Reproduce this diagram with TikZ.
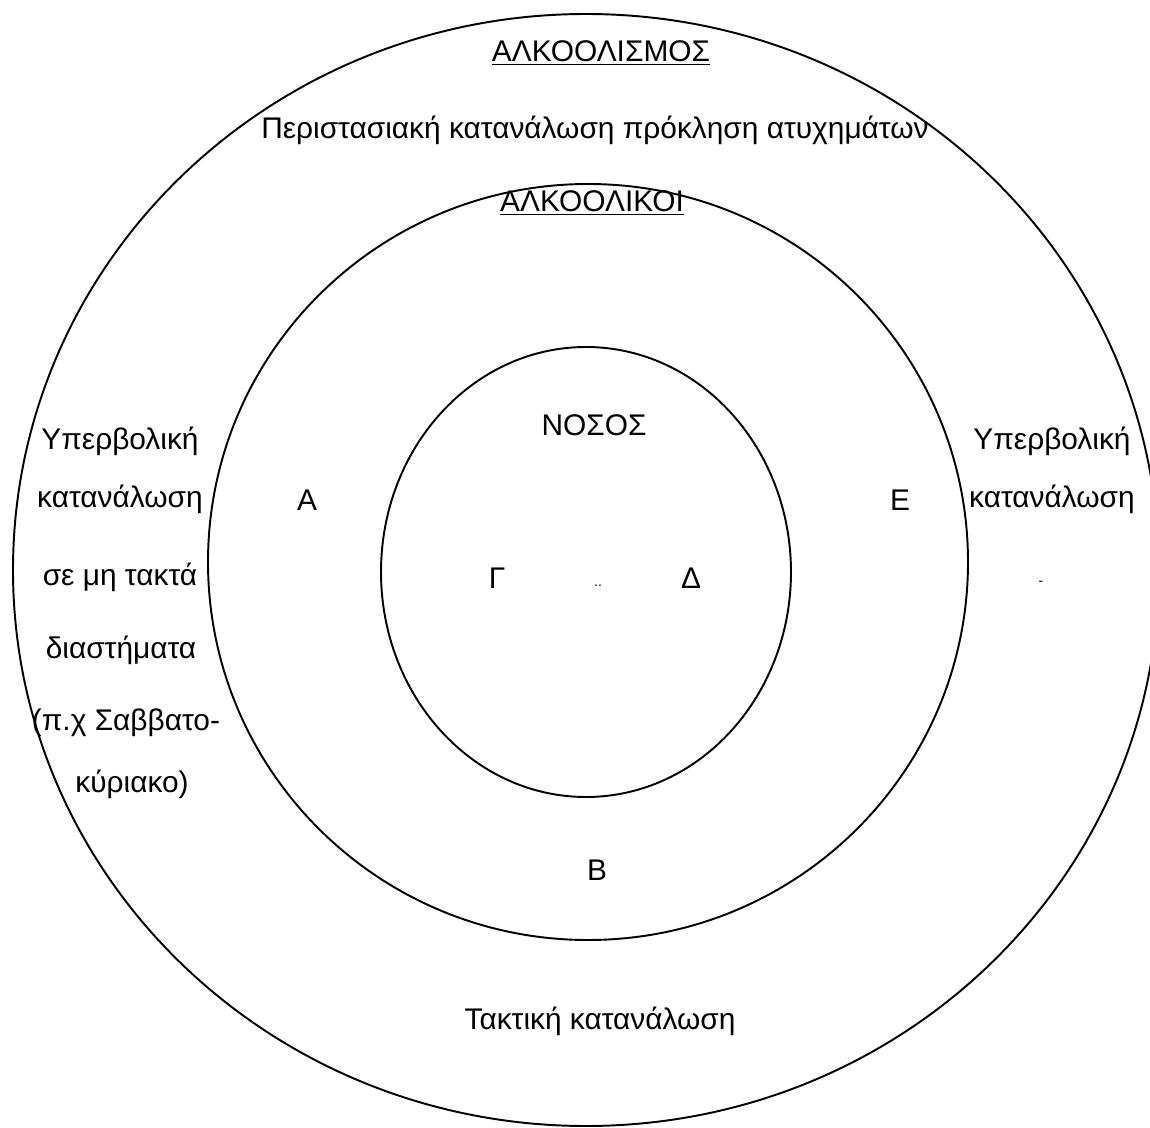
\documentclass[tikz,border=0pt]{standalone}
\usepackage{fontspec}
\setmainfont{Liberation Sans}
\usetikzlibrary{positioning}
\tikzstyle{txt} = [inner sep=0pt, anchor=base, font=\fontsize{17}{20}\selectfont]
\tikzstyle{speck} = [inner sep=0pt, anchor=base, font=\fontsize{8}{9}\selectfont]
\tikzstyle{ring} = [line width=1.1pt]

\begin{document}
\begin{tikzpicture}[x=0.02cm, y=-0.02cm]
    \useasboundingbox (0,0) rectangle (1150,1128);
    \clip (0,0) rectangle (1150,1128);

    \draw [ring] (586,570) ellipse [x radius=573, y radius=556];
    \draw [ring] (588,562) ellipse [x radius=380, y radius=378];
    \draw [ring] (586,572) ellipse [x radius=205, y radius=225];

    \node [txt, name=alcoholism] at (601,62) {\underline{ΑΛΚΟΟΛΙΣΜΟΣ}};
    \node [txt, name=occasional] at (595,139) {Περιστασιακή κατανάλωση πρόκληση ατυχημάτων};
    \node [txt, name=alcoholics] at (592,212) {\underline{ΑΛΚΟΟΛΙΚΟΙ}};
    \node [txt, name=disease] at (594,436) {ΝΟΣΟΣ};

    \node [txt, name=a] at (307,511) {Α};
    \node [txt, name=e] at (900,511) {Ε};
    \node [txt, name=g] at (497,588) {Γ};
    \node [speck, name=dots] at (598,586) {..};
    \node [txt, name=d] at (691,588) {Δ};
    \node [txt, name=b] at (597,880) {Β};

    \node [txt, name=left1] at (120,450) {Υπερβολική};
    \node [txt, name=left2] at (120,508) {κατανάλωση};
    \node [txt, name=left3] at (120,585) {σε μη τακτά};
    \node [txt, name=left4] at (121,658) {διαστήματα};
    \node [txt, name=left5] at (126,730) {(π.χ Σαββατο-};
    \node [txt, name=left6] at (132,792) {κύριακο)};

    \node [txt, name=right1] at (1052,450) {Υπερβολική};
    \node [txt, name=right2] at (1052,508) {κατανάλωση};
    \node [speck, name=dash] at (1041,585) {-};

    \node [txt, name=regular] at (600,1029) {Τακτική κατανάλωση};
\end{tikzpicture}
\end{document}
